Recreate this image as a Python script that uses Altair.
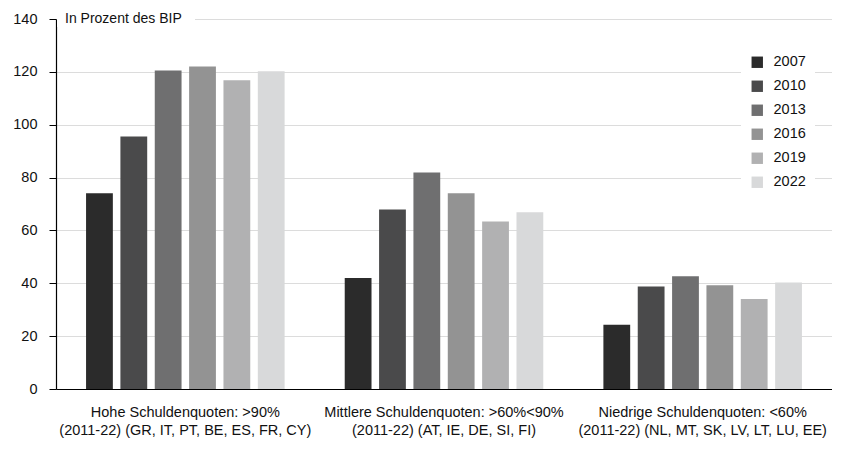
import altair as alt
import pandas as pd

groups = [
    "Hohe Schuldenquoten: >90%\n(2011-22) (GR, IT, PT, BE, ES, FR, CY)",
    "Mittlere Schuldenquoten: >60%<90%\n(2011-22) (AT, IE, DE, SI, FI)",
    "Niedrige Schuldenquoten: <60%\n(2011-22) (NL, MT, SK, LV, LT, LU, EE)",
]
years = ["2007", "2010", "2013", "2016", "2019", "2022"]
v2007 = [74.1, 42.0, 24.3]
v2010 = [95.5, 67.9, 38.8]
v2013 = [120.5, 81.9, 42.7]
v2016 = [122.0, 74.1, 39.3]
v2019 = [116.8, 63.4, 34.1]
v2022 = [120.2, 66.9, 40.3]
colors = ["#2b2b2b", "#4a4a4b", "#6f6f70", "#939393", "#b1b1b2", "#d8d9da"]

series = [v2007, v2010, v2013, v2016, v2019, v2022]
rows = []
for y, vals in zip(years, series):
    for g, v in zip(groups, vals):
        rows.append({"Gruppe": g, "Jahr": y, "Wert": v})
df = pd.DataFrame(rows)

FONT = "Liberation Sans, Arial, sans-serif"

bars = alt.Chart(df).mark_bar().encode(
    x=alt.X(
        "Gruppe:N",
        sort=groups,
        scale=alt.Scale(paddingInner=0, paddingOuter=0),
        axis=alt.Axis(
            title=None,
            labelAngle=0,
            ticks=False,
            domain=True,
            domainColor="#000000",
            domainWidth=1.2,
            labelExpr="split(datum.label, '\\n')",
            labelLimit=0,
            labelPadding=16,
            labelLineHeight=18,
            labelFontSize=14.5,
            labelFont=FONT,
            labelColor="#111111",
            grid=False,
        ),
    ),
    xOffset=alt.XOffset(
        "Jahr:N",
        sort=years,
        scale=alt.Scale(paddingInner=0.22, paddingOuter=0.875),
    ),
    y=alt.Y(
        "Wert:Q",
        scale=alt.Scale(domain=[0, 140], nice=False),
        axis=alt.Axis(
            title=None,
            values=[0, 20, 40, 60, 80, 100, 120, 140],
            tickSize=7,
            tickColor="#000000",
            domainColor="#000000",
            domainWidth=1.2,
            labelPadding=12,
            labelFontSize=14.5,
            labelFont=FONT,
            labelColor="#111111",
            gridColor="#dcdcdc",
            gridWidth=1,
        ),
    ),
    color=alt.Color(
        "Jahr:N",
        sort=years,
        scale=alt.Scale(domain=years, range=colors),
        legend=alt.Legend(
            title=None,
            orient="none",
            legendX=685,
            legendY=27,
            fillColor="#ffffff",
            padding=9,
            symbolType="square",
            symbolSize=130,
            symbolStrokeWidth=0,
            symbolOpacity=1,
            labelFontSize=14.5,
            labelFont=FONT,
            labelColor="#111111",
            labelOffset=9,
            rowPadding=9,
        ),
    ),
)

bg = alt.Chart(pd.DataFrame({"t": ["In Prozent des BIP"]})).mark_rect(
    color="#ffffff"
).encode(
    x=alt.value(1), x2=alt.value(139), y=alt.value(-8), y2=alt.value(8)
)

label = alt.Chart(pd.DataFrame({"t": ["In Prozent des BIP"]})).mark_text(
    align="left", baseline="middle", fontSize=14, font=FONT, color="#111111"
).encode(
    x=alt.value(9), y=alt.value(0), text="t:N"
)

chart = alt.layer(bars, bg, label).properties(
    width=776,
    height=370,
    autosize=alt.AutoSizeParams(type="none"),
    padding={"left": 48, "top": 11, "right": 0, "bottom": 50},
).configure_view(stroke=None)

chart.save("out.html", embed_options={"renderer": "svg", "actions": False})
